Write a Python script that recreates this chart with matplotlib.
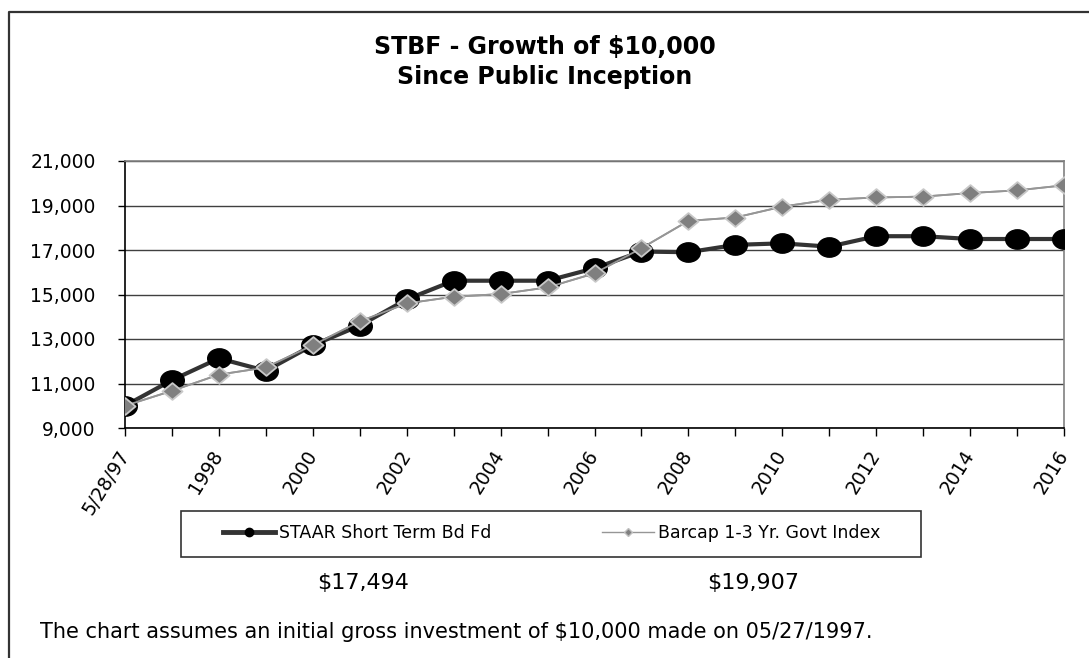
import matplotlib
matplotlib.use("Agg")
import matplotlib.pyplot as plt
from matplotlib.lines import Line2D
from matplotlib.patches import Rectangle
from matplotlib.path import Path
from matplotlib.transforms import Affine2D
from matplotlib.ticker import FuncFormatter

categories = ["5/28/97", "1997", "1998", "1999", "2000", "2001", "2002", "2003",
              "2004", "2005", "2006", "2007", "2008", "2009", "2010", "2011",
              "2012", "2013", "2014", "2015", "2016"]
staar = [10000, 11150, 12130, 11570, 12720, 13600, 14780, 15620, 15620, 15620,
         16180, 16930, 16900, 17230, 17300, 17150, 17620, 17620, 17494, 17494, 17494]
barcap = [10000, 10670, 11400, 11720, 12720, 13790, 14600, 14900, 15020, 15320,
          15950, 17080, 18310, 18460, 18950, 19260, 19360, 19400, 19560, 19680, 19907]
series_names = ["STAAR Short Term Bd Fd", "Barcap 1-3 Yr. Govt Index"]
end_values = ["$17,494", "$19,907"]
title = "STBF - Growth of $10,000\nSince Public Inception"
footer = "The chart assumes an initial gross investment of $10,000 made on 05/27/1997."

W, H = 1089, 658
fig = plt.figure(figsize=(W / 100, H / 100), dpi=100)
plt.rcParams['font.family'] = ['DejaVu Sans']

def fx(px):
    return px / W

def fy(py):
    return 1 - py / H

# slightly wide marker shapes (reference markers are wider than tall)
ellipse = Path.unit_circle().transformed(Affine2D().scale(1.22, 1.0))
diamond = Path([(0, 1), (1.2, 0), (0, -1), (-1.2, 0), (0, 1)],
               [Path.MOVETO, Path.LINETO, Path.LINETO, Path.LINETO, Path.CLOSEPOLY])

ax = fig.add_axes([fx(125), fy(428), fx(1064) - fx(125), fy(161) - fy(428)])
x = list(range(len(categories)))

ax.plot(x, barcap, color="#969696", lw=1.3, zorder=3)
ax.plot(x, staar, color="#333333", lw=3.0, marker=ellipse, ms=17,
        mfc="black", mec="black", zorder=4)
ax.plot(x, barcap, color="#969696", lw=1.3, marker=diamond, ms=14.5,
        mfc="#7f7f7f", mec="#c8c8c8", mew=1.3, zorder=5)

ax.set_xlim(0, len(categories) - 1)
ax.set_ylim(9000, 21000)
ax.set_yticks(range(9000, 21001, 2000))
ax.yaxis.set_major_formatter(FuncFormatter(lambda v, p: f"{int(v):,}"))
ax.set_xticks(x)
ax.set_xticklabels([c if i % 2 == 0 else "" for i, c in enumerate(categories)],
                   rotation=58, ha="right", va="center", rotation_mode="anchor")
ax.tick_params(axis="y", direction="out", length=5, width=1, pad=16,
               labelsize=13.5, colors="black")
ax.tick_params(axis="x", direction="out", length=6, width=1, pad=11,
               labelsize=13.5, colors="black")
ax.grid(axis="y", color="#404040", lw=1)
ax.set_axisbelow(True)
for s in ["top", "right"]:
    ax.spines[s].set_color("#808080")
    ax.spines[s].set_linewidth(1.2)
for s in ["left", "bottom"]:
    ax.spines[s].set_color("black")
    ax.spines[s].set_linewidth(1.2)

fig.text(fx(545), fy(62), title, ha="center", va="center", fontsize=17,
         fontweight="bold", linespacing=1.35)

# outer border
fig.add_artist(Line2D([fx(8.5), fx(8.5), 1.0], [0.0, fy(12), fy(12)],
                      color="#333333", lw=1.6, transform=fig.transFigure))

# legend box
fig.add_artist(Rectangle((fx(181), fy(557)), fx(921) - fx(181), fy(511) - fy(557),
                         fill=False, edgecolor="#333333", lw=1.2,
                         transform=fig.transFigure))
handles = [
    Line2D([], [], color="#333333", lw=3.5, marker="o", ms=6, mfc="black", mec="black"),
    Line2D([], [], color="#969696", lw=1.0, marker="D", ms=4, mfc="#808080", mec="#c0c0c0"),
]
fig.legend(handles, series_names, loc="center", ncol=2, mode="expand",
           bbox_to_anchor=(fx(223), fy(545), fx(880) - fx(223), fy(521) - fy(545)),
           frameon=False, fontsize=12.5, handlelength=3.0, handletextpad=0.2,
           borderpad=0, borderaxespad=0)

fig.text(fx(363), fy(583), end_values[0], ha="center", va="center", fontsize=16)
fig.text(fx(753), fy(583), end_values[1], ha="center", va="center", fontsize=16)
fig.text(fx(40), fy(632), footer, ha="left", va="center", fontsize=15)

fig.savefig("out.png", dpi=100)
